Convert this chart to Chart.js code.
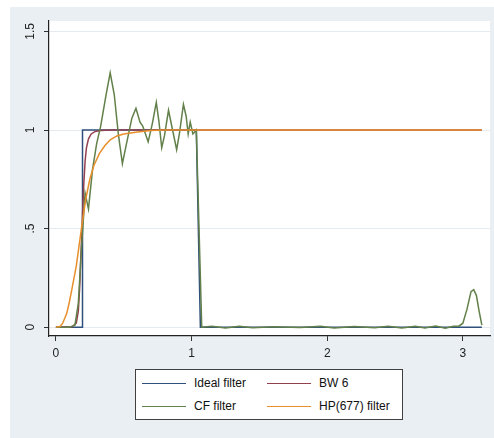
<!DOCTYPE html>
<html>
<head>
<meta charset="utf-8">
<script src="https://cdn.jsdelivr.net/npm/chart.js@4/dist/chart.umd.min.js"></script>
<style>
  html, body { margin: 0; padding: 0; background: #ffffff; width: 494px; height: 438px; overflow: hidden; }
  #bg { position: absolute; left: 10px; top: 7px; width: 484px; height: 431px; background: #e9eff2; }
  #c { position: absolute; left: 0; top: 0; }
  #legend { position: absolute; left: 135px; top: 369px; width: 268px; height: 51px; box-sizing: border-box;
            border: 1px solid #404040; background: #ffffff; font-family: "Liberation Sans", Arial, sans-serif; font-size: 12px; color: #111; }
  .ln { position: absolute; height: 0; border-top: 1.5px solid; width: 44px; }
  .tx { position: absolute; line-height: 14px; white-space: nowrap; }
</style>
</head>
<body>
<div id="bg"></div>
<canvas id="c" width="494" height="438"></canvas>
<div id="legend"></div>
<script>
// ---- data (frequency, gain) ----
const idealX = [0, 0.193, 0.196, 1.035, 1.065, 3.14];
const idealY = [0, 0, 1, 1, 0, 0];

const bwX = [0, 0.12, 0.15, 0.165, 0.175, 0.185, 0.195, 0.205, 0.215, 0.225, 0.24, 0.26, 0.29, 0.33, 0.4, 3.14];
const bwY = [0, 0.002, 0.02, 0.08, 0.2, 0.38, 0.55, 0.72, 0.84, 0.91, 0.955, 0.98, 0.993, 0.998, 1, 1];

const cfX = [0, 0.1, 0.14, 0.165, 0.19, 0.215, 0.24, 0.27, 0.30, 0.33, 0.37, 0.40, 0.43, 0.46, 0.49, 0.52, 0.56, 0.59, 0.62, 0.64, 0.68, 0.71, 0.74, 0.76, 0.78, 0.80, 0.83, 0.86, 0.89, 0.91, 0.94, 0.96, 0.975, 0.99, 1.01, 1.035, 1.075,
             1.15, 1.25, 1.35, 1.45, 1.6, 1.8, 1.95, 2.05, 2.2, 2.35, 2.45, 2.55, 2.65, 2.72, 2.8, 2.87, 2.93, 2.97, 3.0, 3.03, 3.06, 3.08, 3.1, 3.12, 3.14];
const cfY = [0, 0, 0.01, 0.12, 0.42, 0.68, 0.60, 0.80, 0.93, 1.02, 1.18, 1.29, 1.18, 0.98, 0.83, 0.93, 1.06, 1.11, 1.04, 1.02, 0.94, 1.03, 1.14, 1.04, 0.91, 0.97, 1.10, 1.0, 0.90, 0.98, 1.13, 1.07, 0.98, 1.04, 0.98, 1.0, 0,
             0.005, -0.004, 0.004, -0.003, 0.002, -0.002, 0.004, -0.004, 0.003, -0.003, 0.004, -0.004, 0.005, -0.004, 0.006, -0.005, 0.004, 0.005, 0.02, 0.09, 0.18, 0.19, 0.16, 0.08, 0.01];

const hpX = [0, 0.03, 0.05, 0.08, 0.10, 0.12, 0.15, 0.17, 0.19, 0.22, 0.25, 0.28, 0.32, 0.36, 0.40, 0.45, 0.5, 0.6, 0.7, 0.8, 3.14];
const hpY = [0, 0.003, 0.02, 0.07, 0.13, 0.20, 0.31, 0.41, 0.51, 0.65, 0.75, 0.82, 0.88, 0.92, 0.95, 0.97, 0.98, 0.99, 0.997, 1, 1];

const seriesNames = ['Ideal filter', 'BW 6', 'CF filter', 'HP(677) filter'];
const seriesColors = ['#2f4f7c', '#93404e', '#62804a', '#e88f2c'];

const xTicks = [0, 1, 2, 3];
const xTickLabels = ['0', '1', '2', '3'];
const yTicks = [0, 0.5, 1, 1.5];
const yTickLabels = ['0', '.5', '1', '1.5'];

function pts(xs, ys) { return xs.map((x, i) => ({ x: x, y: ys[i] })); }

const plotBg = {
  id: 'plotBg',
  beforeDraw(chart) {
    const { ctx, chartArea: a } = chart;
    ctx.save();
    ctx.fillStyle = '#ffffff';
    ctx.fillRect(a.left, a.top, a.right - a.left, a.bottom - a.top);
    ctx.restore();
  }
};

const font = { family: '"Liberation Sans", Arial, sans-serif', size: 12 };
const xsArr = [idealX, bwX, cfX, hpX];
const ysArr = [idealY, bwY, cfY, hpY];

new Chart(document.getElementById('c'), {
  type: 'line',
  data: {
    datasets: seriesNames.map((n, i) => ({
      label: n,
      data: pts(xsArr[i], ysArr[i]),
      borderColor: seriesColors[i],
      borderWidth: 1.5,
      pointRadius: 0,
      tension: 0,
      fill: false,
      order: 4 - i
    }))
  },
  options: {
    responsive: false,
    animation: false,
    layout: { padding: { left: 10, right: 4, top: 21, bottom: 72 } },
    plugins: { legend: { display: false }, tooltip: { enabled: false } },
    scales: {
      x: {
        type: 'linear',
        min: -0.051,
        max: 3.2,
        afterFit(s) { s.height = 30; },
        afterBuildTicks(s) { s.ticks = xTicks.map(v => ({ value: v })); },
        ticks: {
          autoSkip: false,
          maxRotation: 0,
          minRotation: 0,
          padding: 5,
          color: '#222',
          font: font,
          callback: (v) => xTickLabels[xTicks.indexOf(v)]
        },
        grid: { drawOnChartArea: false, drawTicks: true, tickLength: 5, tickColor: '#333', tickWidth: 1 },
        border: { display: true, color: '#222', width: 1.2 }
      },
      y: {
        type: 'linear',
        min: -0.045,
        max: 1.553,
        afterFit(s) { s.width = 39; },
        afterBuildTicks(s) { s.ticks = yTicks.map(v => ({ value: v })); },
        ticks: {
          autoSkip: false,
          minRotation: 90,
          maxRotation: 90,
          crossAlign: 'center',
          padding: 5,
          color: '#222',
          font: font,
          callback: (v) => yTickLabels[yTicks.indexOf(v)]
        },
        grid: { color: '#e4eaed', lineWidth: 1, drawTicks: true, tickLength: 5, tickColor: '#333', tickWidth: 1 },
        border: { display: true, color: '#222', width: 1.2 }
      }
    }
  },
  plugins: [plotBg]
});

// legend (HTML text)
const lg = document.getElementById('legend');
const cols = [6, 131];
const rows = [14, 37];
seriesNames.forEach((n, i) => {
  const cx = cols[i % 2], ry = rows[Math.floor(i / 2)];
  const l = document.createElement('div');
  l.className = 'ln';
  l.style.left = cx + 'px';
  l.style.top = (ry - 1) + 'px';
  l.style.borderTopColor = seriesColors[i];
  lg.appendChild(l);
  const t = document.createElement('div');
  t.className = 'tx';
  t.style.left = (cx + 52) + 'px';
  t.style.top = (ry - 8) + 'px';
  t.textContent = n;
  lg.appendChild(t);
});
</script>
</body>
</html>
